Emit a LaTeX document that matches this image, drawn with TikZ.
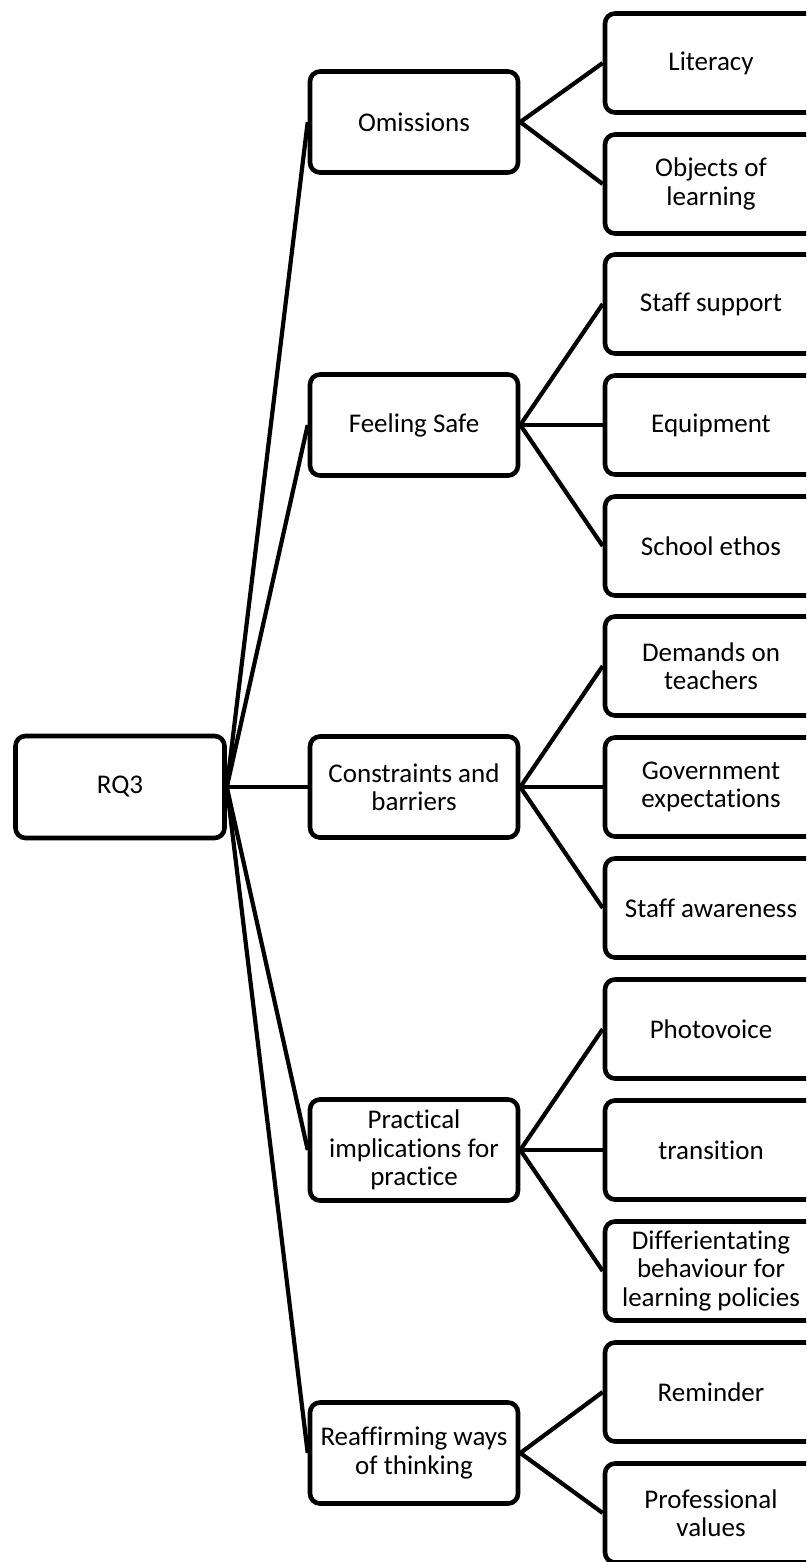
\documentclass[tikz,border=0pt]{standalone}
\usepackage{fontspec}
\setmainfont[Ligatures={NoCommon}]{Carlito}
\begin{document}
\begin{tikzpicture}[x=1pt,y=-1pt,
  box/.style={draw=black,line width=4.6pt,rounded corners=10pt,fill=white,align=center,
    font=\fontsize{27}{28.5}\selectfont,inner sep=1pt},
  root/.style={box,minimum width=209pt,minimum height=102pt},
  mid/.style={box,minimum width=208pt,minimum height=101pt},
  leaf/.style={box,minimum width=212pt,minimum height=99pt},
  link/.style={line width=4.2pt}]
\useasboundingbox (0,0) rectangle (806,1562);
\begin{scope}
\clip (0,0) rectangle (806,1562);
\node[root] (rq) at (120,787) {RQ3};
\node[mid] (m1) at (414,122) {Omissions};
\node[mid] (m2) at (414,425) {Feeling Safe};
\node[mid] (m3) at (414,787) {Constraints and\\barriers};
\node[mid] (m4) at (414,1150) {Practical\\implications for\\practice};
\node[mid] (m5) at (414,1453) {Reaffirming ways\\of thinking};
\node[leaf] (l1) at (711,63) {Literacy};
\node[leaf] (l2) at (711,184) {Objects of\\learning};
\node[leaf] (l3) at (711,304) {Staff support};
\node[leaf] (l4) at (711,425) {Equipment};
\node[leaf] (l5) at (711,546) {School ethos};
\node[leaf] (l6) at (711,666) {Demands on\\teachers};
\node[leaf] (l7) at (711,787) {Government\\expectations};
\node[leaf] (l8) at (711,908) {Staff awareness};
\node[leaf] (l9) at (711,1029) {Photovoice};
\node[leaf] (l10) at (711,1150) {transition};
\node[leaf] (l11) at (711,1271) {Differientating\\behaviour for\\learning policies};
\node[leaf] (l12) at (711,1392) {Reminder};
\node[leaf] (l13) at (711,1513) {Professional\\values};
\foreach \m in {m1,m2,m3,m4,m5} \draw[link] (rq.east) -- (\m.west);
\foreach \l in {l1,l2} \draw[link] (m1.east) -- (\l.west);
\foreach \l in {l3,l4,l5} \draw[link] (m2.east) -- (\l.west);
\foreach \l in {l6,l7,l8} \draw[link] (m3.east) -- (\l.west);
\foreach \l in {l9,l10,l11} \draw[link] (m4.east) -- (\l.west);
\foreach \l in {l12,l13} \draw[link] (m5.east) -- (\l.west);
\end{scope}
\end{tikzpicture}
\end{document}
